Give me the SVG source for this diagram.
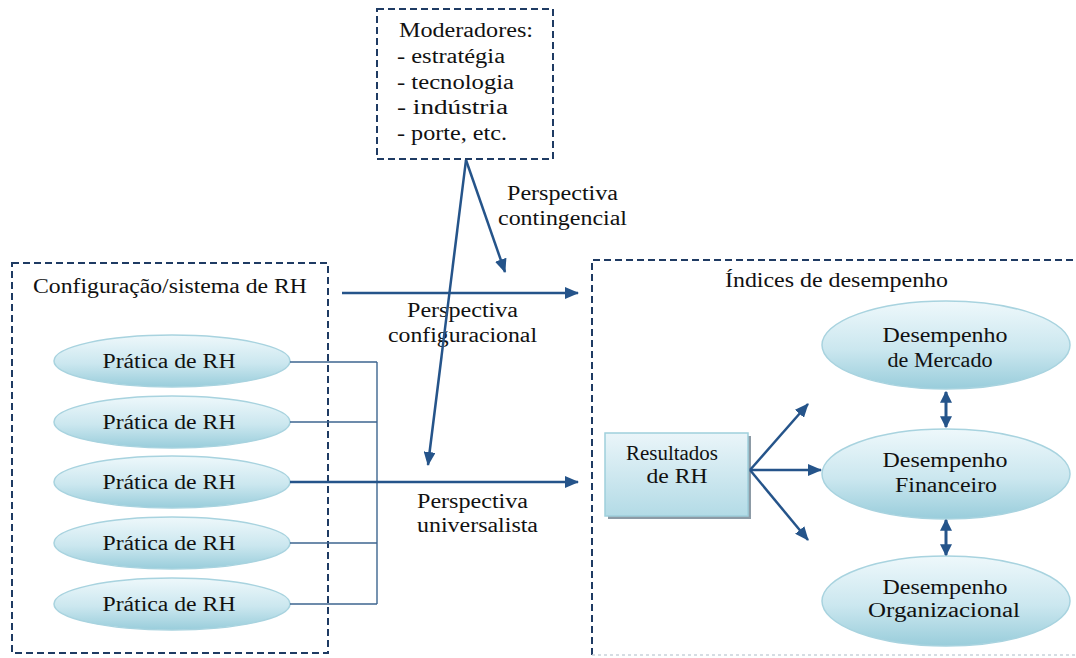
<svg xmlns="http://www.w3.org/2000/svg" width="1076" height="658" viewBox="0 0 1076 658" font-family="Liberation Serif, DejaVu Serif, serif">
<defs>
<linearGradient id="gEll" x1="0" y1="0" x2="0" y2="1">
<stop offset="0" stop-color="#eef8fb"/>
<stop offset="0.55" stop-color="#cbe7ef"/>
<stop offset="1" stop-color="#99cddb"/>
</linearGradient>
<linearGradient id="gBox" x1="0" y1="0" x2="0" y2="1">
<stop offset="0" stop-color="#eaf5f9"/>
<stop offset="1" stop-color="#b3dbe6"/>
</linearGradient>
<marker id="ah" viewBox="0 0 14 12" refX="13" refY="6" markerWidth="14" markerHeight="12" markerUnits="userSpaceOnUse" orient="auto">
<path d="M0,0 L14,6 L0,12 Z" fill="#25548a"/>
</marker>
<marker id="ahs" viewBox="0 0 10 10" refX="9" refY="5" markerWidth="12" markerHeight="12" markerUnits="userSpaceOnUse" orient="auto-start-reverse">
<path d="M0,0 L10,5 L0,10 Z" fill="#25548a"/>
</marker>
</defs>
<style>
text{font-size:20px;fill:#111;}
.mid{text-anchor:middle;}
.dash{fill:none;stroke:#1f3b63;stroke-width:2;stroke-dasharray:7 4;}
.ell{fill:url(#gEll);stroke:#a8d3df;stroke-width:1.5;}
.thin{fill:none;stroke:#3e6690;stroke-width:1.4;}
.arr{fill:none;stroke:#25548a;stroke-width:2.5;}
.dbl{fill:none;stroke:#25548a;stroke-width:3;}
</style>
<rect width="1076" height="658" fill="#ffffff"/>

<g id="moderadores">
<rect class="dash" x="377" y="9" width="176" height="150"/>
<text x="399" y="37" textLength="134" lengthAdjust="spacingAndGlyphs">Moderadores:</text>
<text x="397" y="63" textLength="108" lengthAdjust="spacingAndGlyphs">- estratégia</text>
<text x="397" y="89" textLength="117" lengthAdjust="spacingAndGlyphs">- tecnologia</text>
<text x="397" y="114" textLength="111" lengthAdjust="spacingAndGlyphs">- indústria</text>
<text x="397" y="140" textLength="110" lengthAdjust="spacingAndGlyphs">- porte, etc.</text>
</g>

<g id="configuracao">
<rect class="dash" x="12" y="263" width="316" height="390"/>
<text x="33" y="293" textLength="274" lengthAdjust="spacingAndGlyphs">Configuração/sistema de RH</text>
</g>

<g id="pratica1"><ellipse class="ell" cx="172" cy="361" rx="118" ry="26"/><text class="mid" x="169" y="368" textLength="133" lengthAdjust="spacingAndGlyphs">Prática de RH</text></g>
<g id="pratica2"><ellipse class="ell" cx="172" cy="422" rx="118" ry="26"/><text class="mid" x="169" y="429" textLength="133" lengthAdjust="spacingAndGlyphs">Prática de RH</text></g>
<g id="pratica3"><ellipse class="ell" cx="172" cy="482" rx="118" ry="26"/><text class="mid" x="169" y="489" textLength="133" lengthAdjust="spacingAndGlyphs">Prática de RH</text></g>
<g id="pratica4"><ellipse class="ell" cx="172" cy="543" rx="118" ry="26"/><text class="mid" x="169" y="550" textLength="133" lengthAdjust="spacingAndGlyphs">Prática de RH</text></g>
<g id="pratica5"><ellipse class="ell" cx="172" cy="604" rx="118" ry="26"/><text class="mid" x="169" y="611" textLength="133" lengthAdjust="spacingAndGlyphs">Prática de RH</text></g>

<g id="indices">
<path d="M592,655 L592,260 L1076,260" class="dash"/>
<path d="M592,655 L1076,655" fill="none" stroke="#c9d2da" stroke-width="1.5" stroke-dasharray="3 3"/>
<text x="725" y="287" textLength="223" lengthAdjust="spacingAndGlyphs">Índices de desempenho</text>
</g>

<g id="resultados">
<rect x="608" y="436" width="143" height="83" fill="#8d9ba6"/>
<rect x="605" y="433" width="143" height="83" fill="url(#gBox)" stroke="#9fcfdc" stroke-width="1.5"/>
<text class="mid" x="672" y="460" textLength="92" lengthAdjust="spacingAndGlyphs">Resultados</text>
<text class="mid" x="677" y="483" textLength="61" lengthAdjust="spacingAndGlyphs">de RH</text>
</g>

<g id="mercado"><ellipse class="ell" cx="946" cy="345" rx="124" ry="44"/>
<text class="mid" x="945" y="342" textLength="125" lengthAdjust="spacingAndGlyphs">Desempenho</text>
<text class="mid" x="940" y="367" textLength="105" lengthAdjust="spacingAndGlyphs">de Mercado</text></g>
<g id="financeiro"><ellipse class="ell" cx="946" cy="474" rx="124" ry="45"/>
<text class="mid" x="945" y="467" textLength="125" lengthAdjust="spacingAndGlyphs">Desempenho</text>
<text class="mid" x="946" y="492" textLength="102" lengthAdjust="spacingAndGlyphs">Financeiro</text></g>
<g id="organizacional"><ellipse class="ell" cx="946" cy="601" rx="124" ry="45"/>
<text class="mid" x="945" y="594" textLength="125" lengthAdjust="spacingAndGlyphs">Desempenho</text>
<text class="mid" x="944" y="617" textLength="152" lengthAdjust="spacingAndGlyphs">Organizacional</text></g>

<g id="labels">
<text x="507" y="200" textLength="111" lengthAdjust="spacingAndGlyphs">Perspectiva</text>
<text x="498" y="225" textLength="129" lengthAdjust="spacingAndGlyphs">contingencial</text>
<text x="407" y="317" textLength="111" lengthAdjust="spacingAndGlyphs">Perspectiva</text>
<text x="388" y="342" textLength="149" lengthAdjust="spacingAndGlyphs">configuracional</text>
<text x="417" y="508" textLength="111" lengthAdjust="spacingAndGlyphs">Perspectiva</text>
<text x="417" y="532" textLength="121" lengthAdjust="spacingAndGlyphs">universalista</text>
</g>

<g id="connectors">
<path class="thin" d="M290,362 H377 M290,422 H377 M290,543 H377 M290,604 H377 M377,362 V604"/>
<path class="arr" d="M290,482 H578" marker-end="url(#ah)"/>
<path class="arr" d="M342,293 H578" marker-end="url(#ah)"/>
<path class="arr" d="M466,160 L505,272" marker-end="url(#ah)"/>
<path class="arr" d="M466,160 L428,465" marker-end="url(#ah)"/>
<path class="arr" d="M750,470 L808,404" marker-end="url(#ah)"/>
<path class="arr" d="M750,470 L821,470" marker-end="url(#ah)"/>
<path class="arr" d="M750,470 L808,540" marker-end="url(#ah)"/>
<path class="dbl" d="M946,392 V427" marker-start="url(#ahs)" marker-end="url(#ahs)"/>
<path class="dbl" d="M946,520 V555" marker-start="url(#ahs)" marker-end="url(#ahs)"/>
</g>
</svg>
